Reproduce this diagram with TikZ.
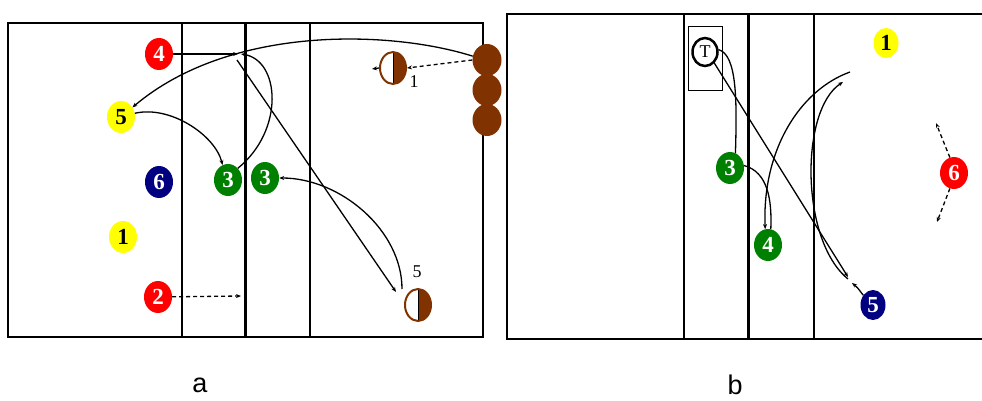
\documentclass[tikz,border=0pt]{standalone}
\usepackage{fontspec}
\setmainfont{Liberation Serif}
\newfontfamily\labfont{Liberation Sans}
\usetikzlibrary{shapes.geometric,arrows.meta}
\definecolor{pred}{RGB}{255,0,0}
\definecolor{pyel}{RGB}{255,255,0}
\definecolor{pnavy}{RGB}{0,0,128}
\definecolor{pgreen}{RGB}{0,128,0}
\definecolor{pbrown}{RGB}{128,51,0}
\begin{document}
\begin{tikzpicture}[x=1pt,y=-1pt,
  player/.style={ellipse, inner sep=0pt, minimum width=28pt, minimum height=32pt,
    font=\fontsize{23}{23}\selectfont\bfseries, text=white},
  ylw/.style={player, fill=pyel, text=black},
  rd/.style={player, fill=pred},
  nv/.style={player, fill=pnavy},
  gr/.style={player, fill=pgreen},
  opp/.style={ellipse, inner sep=0pt, minimum width=29pt, minimum height=32pt, fill=pbrown},
  half/.style={ellipse, inner sep=0pt, minimum width=26pt, minimum height=32pt,
    draw=pbrown, line width=2pt,
    path picture={\fill[pbrown] (path picture bounding box.north) rectangle (path picture bounding box.south east);
      \draw[black, line width=0.8pt] (path picture bounding box.north) -- (path picture bounding box.south);}},
  court/.style={line width=2pt, line cap=rect},
  thick line/.style={line width=3pt},
  arr/.style={line width=1.3pt, -{Stealth[length=5pt,width=4pt]}},
  plain/.style={line width=1.3pt},
  dasharr/.style={arr, dashed, dash pattern=on 4pt off 3pt},
  small/.style={font=\fontsize{18}{18}\selectfont},
  panel/.style={font=\labfont\fontsize{27}{27}\selectfont}
]
\useasboundingbox (0,0) rectangle (982,401);

% ---------- panel a ----------
\draw[court] (8,23) rectangle (483,337);
\draw[court] (182,23) -- (182,337);
\draw[thick line] (245,23) -- (245,337);
\draw[court] (310,23) -- (310,337);

\node[opp] (br3) at (487,120) {};
\node[opp] (br2) at (487,90) {};
\node[opp] (br1) at (487,60) {};

\node[half] (h1) at (393,68) {};
\node[small] (l1) at (414,82) {1};
\node[half] (h5) at (418,305) {};
\node[small] (l5) at (417,272) {5};

\node[rd] (p4a) at (159,54) {4};
\node[ylw] (p5a) at (121,117) {5};
\node[nv] (p6a) at (159,182) {6};
\node[ylw] (p1a) at (123,237) {1};
\node[rd] (p2a) at (158,297) {2};
\node[gr] (g3a) at (228,180) {3};
\node[gr] (g3b) at (265,178) {3};

\coordinate (c4end) at (238,54);
\coordinate (c3end) at (241,54);
\coordinate (cstart) at (237,60);
\coordinate (cend5) at (396,292);
\coordinate (ch5start) at (402,289);
\coordinate (c2end) at (241,296);

\draw[arr] (br1.165) .. controls (390,30) and (230,25) .. (p5a.40);
\draw[arr] (p4a) -- (c4end);
\draw[arr] (g3a.50) .. controls (285,130) and (280,60) .. (c3end);
\draw[arr] (cstart) -- (cend5);
\draw[arr] (p5a.15) .. controls (170,105) and (215,135) .. (g3a.110);
\draw[arr] (ch5start) .. controls (402,230) and (340,178) .. (g3b.east);
\draw[dasharr] (p2a) -- (c2end);
\draw[dasharr] (br1.west) -- (h1.east);
\draw[arr] (h1.west) -- ++(-7,1);

\node[panel] (la) at (200,385) {a};

% ---------- panel b ----------
\draw[court] (990,14) -- (507,14) -- (507,339) -- (990,339);
\draw[court] (684,14) -- (684,339);
\draw[thick line] (748,14) -- (748,339);
\draw[court] (814,14) -- (814,339);

\node[draw, line width=1pt, minimum width=34pt, minimum height=64pt, inner sep=0pt] (tbox) at (705,59) {};
\node[ellipse, draw, line width=2.5pt, minimum width=25pt, minimum height=28pt, inner sep=0pt,
  font=\fontsize{18}{18}\selectfont] (tc) at (705,52) {T};

\node[ylw, minimum width=25pt, minimum height=30pt] (yb1) at (886,43) {1};
\node[rd] (rb6) at (954,173) {6};
\node[gr] (gb3) at (730,168) {3};
\node[gr] (gb4) at (768,245) {4};
\node[nv, minimum width=25pt, minimum height=30pt] (nb5) at (873,305) {5};

\coordinate (cb5a) at (848,277);
\coordinate (cbtop) at (850,72);
\coordinate (cbarr) at (843,82);
\coordinate (cbbot) at (848,279);
\coordinate (cb5s) at (852,283);
\coordinate (c6u) at (936,123);
\coordinate (c6d) at (937,222);

\draw[plain] (tc.10) .. controls (737,55) and (737,100) .. (gb3.70);
\draw[arr] (tc.-50) -- (cb5a);
\draw[plain] (gb3.10) .. controls (768,172) and (772,200) .. (gb4.80);
\draw[arr] (cbtop) .. controls (800,90) and (762,150) .. (gb4.100);
\draw[arr] (cbbot) .. controls (800,240) and (800,110) .. (cbarr);
\draw[arr] (nb5.135) .. controls (857,287) .. (cb5s);
\draw[dasharr] (rb6.105) -- (c6u);
\draw[dasharr] (rb6.-105) -- (c6d);

\node[panel] (lb) at (735,385) {b};
\end{tikzpicture}
\end{document}
